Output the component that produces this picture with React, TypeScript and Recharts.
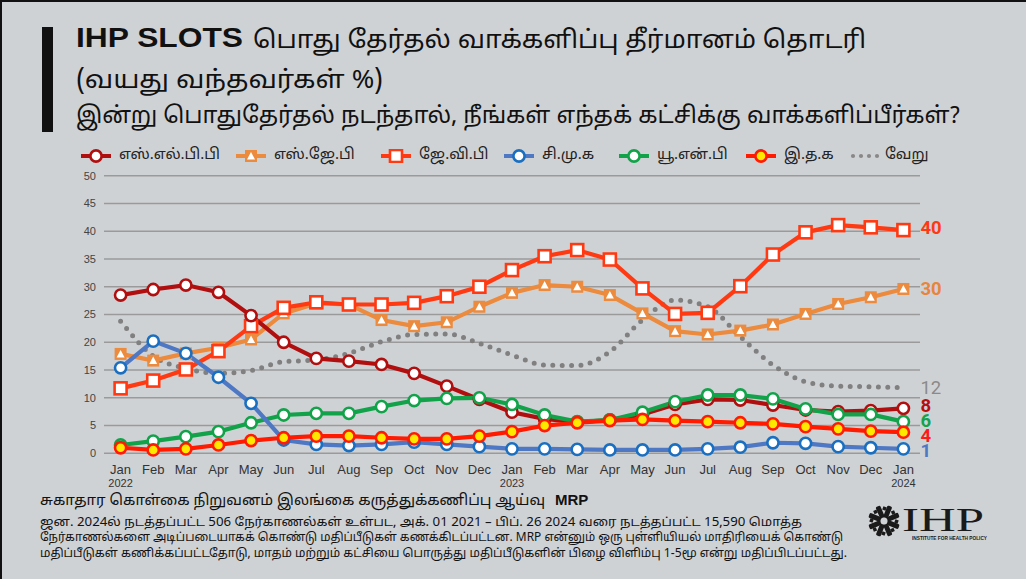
import React from 'react';
import { LineChart, Line, XAxis, YAxis, CartesianGrid } from 'recharts';

const months = ['Jan','Feb','Mar','Apr','May','Jun','Jul','Aug','Sep','Oct','Nov','Dec','Jan','Feb','Mar','Apr','May','Jun','Jul','Aug','Sep','Oct','Nov','Dec','Jan'];
const years = ['2022','','','','','','','','','','','','2023','','','','','','','','','','','','2024'];
const yTicks = [0, 5, 10, 15, 20, 25, 30, 35, 40, 45, 50];

const slpp = [28.5,29.5,30.3,29.0,24.8,20.0,17.1,16.6,16.0,14.4,12.1,9.7,7.4,6.2,5.6,6.0,7.0,8.8,9.7,9.6,8.7,7.8,7.5,7.7,8.1];
const sjb = [17.9,16.7,18.0,19.0,20.5,25.2,27.0,26.8,24.0,22.9,23.6,26.4,28.9,30.3,30.0,28.5,25.2,22.0,21.4,22.1,23.2,25.1,26.9,28.1,29.6];
const jvp = [11.7,13.1,15.1,18.4,22.9,26.2,27.2,26.8,26.8,27.1,28.3,30.0,33.0,35.5,36.6,34.9,29.7,25.1,25.3,30.1,35.8,39.8,41.1,40.7,40.2];
const npp = [15.4,20.2,18.0,13.7,9.0,2.4,1.6,1.4,1.6,2.0,1.6,1.2,0.8,0.8,0.7,0.6,0.6,0.6,0.8,1.1,1.9,1.8,1.2,1.0,0.8];
const unp = [1.5,2.2,3.0,3.9,5.5,6.9,7.2,7.2,8.4,9.5,9.9,10.0,8.8,6.9,5.7,6.0,7.4,9.3,10.5,10.5,9.8,8.0,7.0,7.0,5.7];
const itak = [1.0,0.6,0.8,1.5,2.3,2.8,3.1,3.1,2.8,2.6,2.6,3.1,3.9,5.0,5.5,5.9,6.1,5.9,5.7,5.5,5.3,4.8,4.4,4.0,3.8];
const other = [23.8,17.5,15.3,14.4,14.9,16.5,16.8,18.0,20.1,21.4,21.5,19.8,17.7,15.9,15.8,18.3,24.0,27.6,26.4,21.0,15.9,12.9,12.1,12.0,11.8];

const seriesNames = ['எஸ்.எல்.பி.பி', 'எஸ்.ஜே.பி', 'ஜே.வி.பி', 'சி.மு.க', 'யூ.என்.பி', 'இ.த.க', 'வேறு'];

const W = 1026;
const H = 579;
const FONT = "'Noto Sans Tamil', 'Lohit Tamil', 'Noto Sans', 'Liberation Sans', sans-serif";
const LAT = "'Liberation Sans', Arial, sans-serif";

type Kind = 'circle' | 'triangle' | 'square' | 'yellow' | 'none';

const series = [
  { key: 'other', name: seriesNames[6], values: other, color: '#808080', mark: '#808080', kind: 'none' as Kind, label: '#8a8a8a', bold: false, ldy: 0 },
  { key: 'sjb', name: seriesNames[1], values: sjb, color: '#ec8a3d', mark: '#ec8a3d', kind: 'triangle' as Kind, label: '#e8853a', bold: true, ldy: 0 },
  { key: 'jvp', name: seriesNames[2], values: jvp, color: '#ff3a12', mark: '#ff3a12', kind: 'square' as Kind, label: '#ff3a12', bold: true, ldy: -3 },
  { key: 'slpp', name: seriesNames[0], values: slpp, color: '#b10f0f', mark: '#b10f0f', kind: 'circle' as Kind, label: '#b80d0d', bold: true, ldy: -3 },
  { key: 'unp', name: seriesNames[4], values: unp, color: '#12a34a', mark: '#12a34a', kind: 'circle' as Kind, label: '#14a34a', bold: true, ldy: -1.5 },
  { key: 'npp', name: seriesNames[3], values: npp, color: '#4f78c4', mark: '#1a6fc0', kind: 'circle' as Kind, label: '#4f78c4', bold: true, ldy: 1.8 },
  { key: 'itak', name: seriesNames[5], values: itak, color: '#ff1a00', mark: '#ff1a00', kind: 'yellow' as Kind, label: '#ff1a1a', bold: true, ldy: 3 },
];

const legendOrder = ['slpp', 'sjb', 'jvp', 'npp', 'unp', 'itak', 'other'];
const legendX = [80, 235, 380, 503, 618, 745, 850];

function Marker({ kind, cx, cy, color }: { kind: Kind; cx: number; cy: number; color: string }) {
  if (kind === 'circle') return <circle cx={cx} cy={cy} r={5.6} fill="#fff" stroke={color} strokeWidth={2.6} />;
  if (kind === 'yellow') return <circle cx={cx} cy={cy} r={5.6} fill="#ffe800" stroke={color} strokeWidth={2.6} />;
  if (kind === 'square') return <rect x={cx - 6} y={cy - 6} width={12} height={12} fill="#fff" stroke={color} strokeWidth={2.6} />;
  if (kind === 'triangle') {
    return (
      <g>
        <rect x={cx - 6} y={cy - 6} width={12} height={12} fill={color} />
        <path d={`M${cx},${cy - 4} L${cx + 4},${cy + 3.5} L${cx - 4},${cy + 3.5} Z`} fill="#fff" />
      </g>
    );
  }
  return null;
}

const XTick = (props: any) => {
  const { x, y, payload } = props;
  const i = Number(payload.value);
  return (
    <g transform={`translate(${x},${y})`}>
      <text textAnchor="middle" y={21} fontSize={13} fill="#333" fontFamily={LAT}>{months[i]}</text>
      {years[i] ? <text textAnchor="middle" y={34} fontSize={11} fill="#333" fontFamily={LAT}>{years[i]}</text> : null}
    </g>
  );
};

function LegendIcon({ s }: { s: typeof series[number] }) {
  if (s.kind === 'none') {
    return (
      <svg width={32} height={14}>
        {[3, 11, 19, 27].map((x) => <circle key={x} cx={x} cy={7} r={2.1} fill="#888" />)}
      </svg>
    );
  }
  return (
    <svg width={32} height={14}>
      <line x1={1} x2={31} y1={7} y2={7} stroke={s.color} strokeWidth={4} />
      <Marker kind={s.kind} cx={16} cy={7} color={s.mark} />
    </svg>
  );
}

export default function App() {
  const data = months.map((m, i) => {
    const row: any = { i, m };
    series.forEach((s) => { row[s.key] = s.values[i]; });
    return row;
  });
  const last = months.length - 1;

  return (
    <div style={{ position: 'fixed', left: 0, top: 0, width: W, height: H, background: '#cfd2d5', overflow: 'hidden', fontFamily: FONT }}>
      <svg width={W} height={H} style={{ position: 'absolute', left: 0, top: 0 }}>
        <rect x={0} y={0} width={W} height={2} fill="#111" />
        <rect x={0} y={0} width={2} height={H} fill="#111" />
        <rect x={42} y={27} width={11} height={105} fill="#111" />
        <text x={76} y={47} fontWeight="bold" fontSize={27} fill="#111" fontFamily={LAT} textLength={167} lengthAdjust="spacingAndGlyphs">IHP SLOTS</text>
        <text x={253} y={48} fontSize={25} fill="#111" fontFamily={FONT} textLength={613} lengthAdjust="spacingAndGlyphs">பொது தேர்தல் வாக்களிப்பு தீர்மானம் தொடரி</text>
        <text x={76} y={88} fontSize={25} fill="#111" fontFamily={FONT} textLength={307} lengthAdjust="spacingAndGlyphs">(வயது வந்தவர்கள் %)</text>
        <text x={76} y={123} fontSize={23} fill="#111" fontFamily={FONT} textLength={884} lengthAdjust="spacingAndGlyphs">இன்று பொதுதேர்தல் நடந்தால், நீங்கள் எந்தக் கட்சிக்கு வாக்களிப்பீர்கள்?</text>

        <text x={40} y={505} fontSize={15} fill="#111" fontFamily={FONT} textLength={505} lengthAdjust="spacingAndGlyphs">சுகாதார கொள்கை நிறுவனம் இலங்கை கருத்துக்கணிப்பு ஆய்வு</text>
        <text x={555} y={505} fontSize={15} fontWeight="bold" fill="#111" fontFamily={LAT}>MRP</text>
        <text x={40} y={526} fontSize={12} fill="#111" fontFamily={FONT} textLength={762} lengthAdjust="spacingAndGlyphs">ஜன. 2024ல் நடத்தப்பட்ட 506 நேர்காணல்கள் உள்பட, அக். 01 2021 – பிப். 26 2024 வரை நடத்தப்பட்ட 15,590 மொத்த</text>
        <text x={40} y={541} fontSize={12} fill="#111" fontFamily={FONT} textLength={803} lengthAdjust="spacingAndGlyphs">நேர்காணல்களை அடிப்படையாகக் கொண்டு மதிப்பீடுகள் கணக்கிடப்பட்டன. MRP என்னும் ஒரு புள்ளியியல் மாதிரியைக் கொண்டு</text>
        <text x={40} y={557} fontSize={12} fill="#111" fontFamily={FONT} textLength={807} lengthAdjust="spacingAndGlyphs">மதிப்பீடுகள் கணிக்கப்பட்டதோடு, மாதம் மற்றும் கட்சியை பொருத்து மதிப்பீடுகளின் பிழை விளிம்பு 1-5மூ என்று மதிப்பிடப்பட்டது.</text>

        <g transform="translate(884,521)" fill="#1a1a1a">
          {[0, 45, 90, 135, 180, 225, 270, 315].map((a) => (
            <g key={a} transform={`rotate(${a + 22})`}>
              <rect x={3} y={-2.5} width={13} height={5} rx={1.5} />
              <rect x={10} y={-6} width={3.5} height={3.5} />
            </g>
          ))}
          <circle r={3.5} fill="#cfd2d5" />
        </g>
        <text x={902} y={531} fontSize={33} fill="#1a1a1a" fontFamily="'Liberation Serif', 'DejaVu Serif', serif" textLength={82} lengthAdjust="spacingAndGlyphs">IHP</text>
        <text x={912} y={540} fontSize={5} fontWeight="bold" fill="#1a1a1a" fontFamily={LAT} textLength={75} lengthAdjust="spacingAndGlyphs">INSTITUTE FOR HEALTH POLICY</text>
      </svg>

      {legendOrder.map((k, j) => {
        const s = series.find((x) => x.key === k)!;
        return (
          <div key={k} style={{ position: 'absolute', left: legendX[j], top: 147, height: 18, display: 'flex', alignItems: 'center', whiteSpace: 'nowrap' }}>
            <LegendIcon s={s} />
            <span style={{ marginLeft: s.kind === 'none' ? 3 : 7, fontSize: 15, color: '#222', lineHeight: '18px' }}>{s.name}</span>
          </div>
        );
      })}

      <div style={{ position: 'absolute', left: 0, top: 0 }}>
        <LineChart width={W} height={H} data={data} margin={{ top: 175.7, right: 106, bottom: 124.7, left: 64 }}>
          <CartesianGrid vertical={false} stroke="#9a9a9a" strokeWidth={1.5} />
          <XAxis dataKey="i" type="category" height={1} padding={{ left: 16.6, right: 16.6 }} axisLine={false} tickLine={false} tickSize={0} tickMargin={0} tick={<XTick />} interval={0} />
          <YAxis width={40} domain={[0, 50]} ticks={yTicks} axisLine={false} tickLine={false} tickSize={0} tickMargin={8} tick={{ fontSize: 11, fill: '#444', fontFamily: LAT }} interval={0} />
          {series.map((s) => (
            <Line
              key={s.key}
              dataKey={s.key}
              name={s.name}
              type={s.kind === 'none' ? 'monotone' : 'linear'}
              stroke={s.color}
              strokeWidth={s.kind === 'none' ? 5 : 4.2}
              strokeDasharray={s.kind === 'none' ? '0 9.4' : undefined}
              strokeLinecap={s.kind === 'none' ? 'round' : 'butt'}
              isAnimationActive={false}
              activeDot={false}
              dot={(p: any) => (
                <g key={`${s.key}-${p.index}`}>
                  {s.kind === 'none' ? null : <Marker kind={s.kind} cx={p.cx} cy={p.cy} color={s.mark} />}
                </g>
              )}
              label={(p: any) => (
                <g key={`${s.key}-l-${p.index}`}>
                  {p.index === last ? (
                    <text x={p.x + 17} y={p.y + s.ldy} dy={6.5} fontSize={18.5} fontWeight={s.bold ? 'bold' : 'normal'} fill={s.label} fontFamily="Roboto, 'Liberation Sans', sans-serif">
                      {Math.round(Number(p.value))}
                    </text>
                  ) : null}
                </g>
              )}
            />
          ))}
        </LineChart>
      </div>
    </div>
  );
}
